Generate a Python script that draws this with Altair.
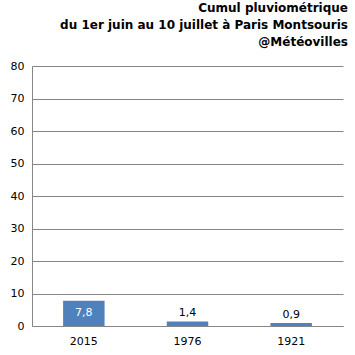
import altair as alt
import pandas as pd

years = ["2015", "1976", "1921"]
values = [7.8, 1.4, 0.9]
labels = ["7,8", "1,4", "0,9"]
inside = [True, False, False]

df = pd.DataFrame({"year": years, "value": values, "label": labels, "inside": inside})

FONT = "DejaVu Sans"
yticks = [0, 10, 20, 30, 40, 50, 60, 70, 80]

def xenc():
    return alt.X("year:N", sort=years, title=None,
                 scale=alt.Scale(paddingInner=0.6, paddingOuter=0.3),
                 axis=alt.Axis(labelAngle=0))

def yenc(field):
    return alt.Y(field, title=None,
                 scale=alt.Scale(domain=[0, 80], nice=False),
                 axis=alt.Axis(values=yticks, labelOverlap=False))

bars = alt.Chart(df).mark_bar(color="#4f81bd").encode(x=xenc(), y=yenc("value:Q"))

txt_in = alt.Chart(df).transform_filter("datum.inside").transform_calculate(
    mid="datum.value / 2").mark_text(
    color="white", font=FONT, fontSize=11, baseline="middle").encode(
    x=xenc(), y=yenc("mid:Q"), text="label:N")

txt_out = alt.Chart(df).transform_filter("!datum.inside").mark_text(
    color="#000000", font=FONT, fontSize=11, baseline="bottom", dy=-3).encode(
    x=xenc(), y=yenc("value:Q"), text="label:N")

chart = alt.layer(bars, txt_in, txt_out).properties(
    width=311, height=260,
    autosize=alt.AutoSizeParams(type="none"),
    padding={"left": 32, "top": 66, "right": 12, "bottom": 29},
    background="white",
    title=alt.Title(
        text=["Cumul pluviométrique",
              "du 1er juin au 10 juillet à Paris Montsouris",
              "@Météovilles"],
        anchor="end", font=FONT, fontSize=12, fontWeight="bold",
        color="#000000", lineHeight=17, offset=11, dx=5),
).configure_view(stroke=None).configure_axisX(
    ticks=False, domainColor="#868686", grid=False,
    labelFont=FONT, labelFontSize=11, labelColor="#000000", labelPadding=9
).configure_axisY(
    ticks=False, domainColor="#868686", gridColor="#868686", grid=True,
    labelFont=FONT, labelFontSize=11, labelColor="#000000", labelPadding=8
)

chart.save("out.html", embed_options={"renderer": "svg", "actions": False})
